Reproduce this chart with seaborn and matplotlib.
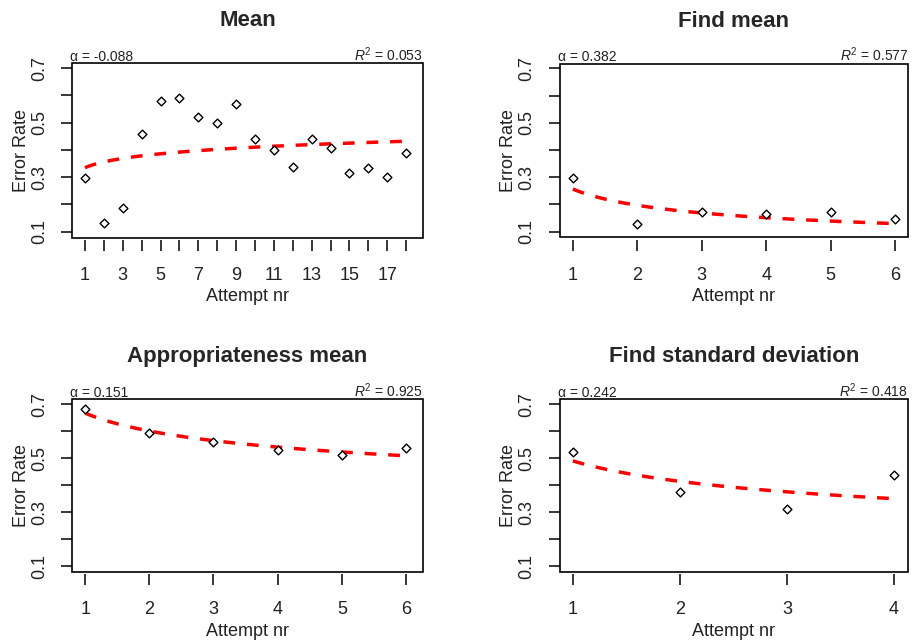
import numpy as np
import pandas as pd
import matplotlib
matplotlib.use("Agg")
import matplotlib.pyplot as plt
from matplotlib.patches import Rectangle
import seaborn as sns

# --- data ---
titles = ["Mean", "Find mean", "Appropriateness mean", "Find standard deviation"]

mean_x = list(range(1, 19))
mean_y = [0.298, 0.133, 0.186, 0.459, 0.580, 0.592, 0.522, 0.498, 0.570,
          0.439, 0.400, 0.339, 0.439, 0.406, 0.314, 0.335, 0.302, 0.387]

find_mean_x = [1, 2, 3, 4, 5, 6]
find_mean_y = [0.298, 0.128, 0.170, 0.166, 0.171, 0.145]

approp_x = [1, 2, 3, 4, 5, 6]
approp_y = [0.682, 0.592, 0.560, 0.532, 0.512, 0.539]

find_sd_x = [1, 2, 3, 4]
find_sd_y = [0.523, 0.375, 0.312, 0.437]

# power-law fit y = a * x^(-alpha)
alphas = [-0.088, 0.382, 0.151, 0.242]
intercepts = [0.335, 0.256, 0.667, 0.49]
r_squared = [0.053, 0.577, 0.925, 0.418]

xs_all = [mean_x, find_mean_x, approp_x, find_sd_x]
ys_all = [mean_y, find_mean_y, approp_y, find_sd_y]

# --- style ---
sns.set_style("ticks")
plt.rcParams['font.family'] = ['Liberation Sans', 'DejaVu Sans']
plt.rcParams['mathtext.fontset'] = 'custom'
plt.rcParams['mathtext.rm'] = 'Liberation Sans'
plt.rcParams['mathtext.it'] = 'Liberation Sans:italic'

W, H = 913, 643
fig = plt.figure(figsize=(W / 100, H / 100), dpi=100)

# box positions in pixels: left, right, top, bottom
boxes = [(72.3, 422.7, 63.3, 237.7), (560, 908, 63.5, 237.5),
         (72.3, 422.7, 399.3, 572.3), (560, 908, 399.3, 572.3)]
xlims = [(0.33, 18.88), (0.80, 6.20), (0.80, 6.26), (0.88, 4.13)]

for i in range(4):
    l, r, t, b = boxes[i]
    ax = fig.add_axes([l / W, 1 - b / H, (r - l) / W, (b - t) / H])

    x = xs_all[i]
    df = pd.DataFrame({'attempt': x, 'err': ys_all[i]})

    # fitted curve
    grid = np.linspace(1, max(x), 300)
    fit = intercepts[i] * grid ** (-alphas[i])
    sns.lineplot(x=grid, y=fit, ax=ax, color='red', linewidth=2.5,
                 linestyle=(0, (3.4, 3.4)), zorder=2)

    # observed error rates
    sns.scatterplot(data=df, x='attempt', y='err', ax=ax, marker='D', s=20,
                    color='white', edgecolor='black', linewidth=1.0, zorder=3)

    ax.set_xlim(*xlims[i])
    ax.set_ylim(0.078, 0.718)

    ax.set_xticks(x)
    if len(x) > 10:
        ax.set_xticklabels([str(v) if v % 2 == 1 else '' for v in x])
    else:
        ax.set_xticklabels([str(v) for v in x])
    yt = [0.1, 0.2, 0.3, 0.4, 0.5, 0.6, 0.7]
    ax.set_yticks(yt)
    ax.set_yticklabels(['0.1', '', '0.3', '', '0.5', '', '0.7'])

    ax.tick_params(direction='out', length=8, width=1.1,
                   labelsize=13, color='black', labelcolor='#222222')
    ax.tick_params(axis='x', pad=11.5)
    ax.tick_params(axis='y', pad=9.5, labelrotation=90)
    for lab in ax.get_yticklabels():
        lab.set_va('center')

    # R-style box, x ticks slightly detached from it
    for s in ax.spines.values():
        s.set_visible(False)
    ax.spines['bottom'].set_position(('outward', 1.5))
    ax.add_patch(Rectangle((0, 0), 1, 1, transform=ax.transAxes, fill=False,
                           edgecolor='black', linewidth=1.2, clip_on=False, zorder=4))

    ax.set_xlabel('Attempt nr', fontsize=13, labelpad=3, color='#222222')
    ax.set_ylabel('Error Rate', fontsize=13, labelpad=1, color='#222222')
    ax.set_title(titles[i], fontsize=16, fontweight='bold', pad=26.5)

    ax.annotate(f"α = {alphas[i]:.3f}", xy=(0, 1), xycoords='axes fraction',
                xytext=(-1.5, 1.5), textcoords='offset points',
                ha='left', va='baseline', fontsize=10, color='#222222')
    ax.annotate(f"$R^2$ = {r_squared[i]:.3f}", xy=(1, 1), xycoords='axes fraction',
                xytext=(0, 1.5), textcoords='offset points',
                ha='right', va='baseline', fontsize=10, color='#222222')

fig.savefig('out.png', dpi=100)
